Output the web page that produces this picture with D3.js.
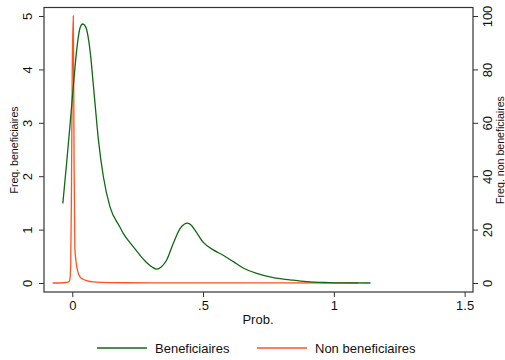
<!DOCTYPE html>
<head>
    <meta charset="utf-8">
    <title>Density</title>
    <script src="https://d3js.org/d3.v7.min.js"></script>
    <style>
        body { margin: 0; background: #fff; }
        svg { display: block; font-family: "Liberation Sans", Arial, sans-serif; }
    </style>
</head>
<body>
    <div id="svg-container"></div>
    <script>
        // kernel density, beneficiaires (left axis)
        const benefX = [-0.036, -0.022, -0.009, 0.004, 0.019, 0.030, 0.040, 0.051, 0.061, 0.071, 0.080, 0.090,
            0.100, 0.119, 0.144, 0.182, 0.195, 0.233, 0.259, 0.285, 0.305, 0.323, 0.340, 0.361, 0.386, 0.412,
            0.428, 0.440, 0.455, 0.469, 0.501, 0.539, 0.577, 0.616, 0.654, 0.705, 0.769, 0.832, 0.896, 0.98, 1.06, 1.14];
        const benefY = [1.49, 2.22, 2.93, 3.68, 4.45, 4.78, 4.85, 4.80, 4.60, 4.22, 3.74, 3.20,
            2.68, 1.99, 1.43, 1.05, 0.93, 0.68, 0.52, 0.38, 0.30, 0.26, 0.30, 0.43, 0.74, 1.02,
            1.10, 1.12, 1.08, 0.99, 0.76, 0.62, 0.52, 0.40, 0.28, 0.18, 0.10, 0.06, 0.025, 0.008, 0.002, 0];

        // kernel density, non beneficiaires (right axis)
        const nonX = [-0.075, -0.03, -0.015, -0.010, -0.006, -0.003, 0.000, 0.004, 0.007, 0.010, 0.014, 0.017,
            0.022, 0.029, 0.040, 0.055, 0.080, 0.144, 0.30, 0.50, 0.80, 1.093];
        const nonY = [0, 0.1, 0.3, 0.9, 6, 35, 80, 100, 45, 13, 8.5, 6.2,
            4.0, 2.4, 1.5, 0.9, 0.4, 0.15, 0.06, 0.03, 0.01, 0];

        const xTicks = [0, 0.5, 1, 1.5];
        const xTickLabels = ["0", ".5", "1", "1.5"];
        const yLeftTicks = [0, 1, 2, 3, 4, 5];
        const yRightTicks = [0, 20, 40, 60, 80, 100];

        const seriesNames = ["Beneficiaires", "Non beneficiaires"];
        const seriesColors = ["#0f6a12", "#ff5220"];

        const W = 505, H = 360;
        const plot = { left: 44, right: 473, top: 7.5, bottom: 292 };

        const x = d3.scaleLinear().domain([-0.108, 1.532]).range([plot.left, plot.right]);
        const yL = d3.scaleLinear().domain([0, 5]).range([283, 16]);
        const yR = d3.scaleLinear().domain([0, 100]).range([283, 16]);

        const svg = d3.select("#svg-container").append("svg")
            .attr("width", W).attr("height", H);

        const line = (xs, ys, y) => d3.line()
            .x((d, i) => x(xs[i]))
            .y((d, i) => y(ys[i]))
            .curve(d3.curveMonotoneX)(xs);

        svg.append("path")
            .attr("d", line(nonX, nonY, yR))
            .attr("fill", "none").attr("stroke", seriesColors[1]).attr("stroke-width", 1.3);

        svg.append("path")
            .attr("d", line(benefX, benefY, yL))
            .attr("fill", "none").attr("stroke", seriesColors[0]).attr("stroke-width", 1.3);

        // frame
        svg.append("rect")
            .attr("x", plot.left).attr("y", plot.top)
            .attr("width", plot.right - plot.left).attr("height", plot.bottom - plot.top)
            .attr("fill", "none").attr("stroke", "#333").attr("stroke-width", 1.2);

        // axes
        const xAxis = d3.axisBottom(x).tickValues(xTicks).tickSize(5).tickPadding(4)
            .tickFormat((d, i) => xTickLabels[i]);
        const gx = svg.append("g").attr("transform", `translate(0,${plot.bottom})`).call(xAxis);
        gx.select(".domain").remove();
        gx.selectAll("text").attr("font-size", 13).attr("fill", "#111").attr("font-family", null);
        gx.selectAll("line").attr("stroke", "#333");

        const yAxisL = d3.axisLeft(yL).tickValues(yLeftTicks).tickSize(5).tickFormat(d3.format("d"));
        const gl = svg.append("g").attr("transform", `translate(${plot.left},0)`).call(yAxisL);
        gl.select(".domain").remove();
        gl.selectAll("line").attr("stroke", "#333");
        gl.selectAll("text")
            .attr("font-size", 13).attr("fill", "#111").attr("font-family", null)
            .attr("text-anchor", "middle").attr("x", null).attr("dy", null)
            .attr("transform", "translate(-12,0) rotate(-90)");

        const yAxisR = d3.axisRight(yR).tickValues(yRightTicks).tickSize(5).tickFormat(d3.format("d"));
        const gr = svg.append("g").attr("transform", `translate(${plot.right},0)`).call(yAxisR);
        gr.select(".domain").remove();
        gr.selectAll("line").attr("stroke", "#333");
        gr.selectAll("text")
            .attr("font-size", 13).attr("fill", "#111").attr("font-family", null)
            .attr("text-anchor", "middle").attr("x", null).attr("dy", null)
            .attr("transform", "translate(19,0) rotate(-90)");

        // titles
        svg.append("text").attr("x", 258).attr("y", 324)
            .attr("text-anchor", "middle").attr("font-size", 13).attr("fill", "#111").text("Prob.");
        svg.append("text").attr("transform", "translate(18,150) rotate(-90)")
            .attr("text-anchor", "middle").attr("font-size", 10.6).attr("fill", "#111").text("Freq. beneficiaires");
        svg.append("text").attr("transform", "translate(504,150) rotate(-90)")
            .attr("text-anchor", "middle").attr("font-size", 10.6).attr("fill", "#111").text("Freq. non beneficiaires");

        // legend
        const legX = [97, 257];
        const leg = svg.append("g").selectAll("g").data(seriesNames).join("g")
            .attr("transform", (d, i) => `translate(${legX[i]},348)`);
        leg.append("line").attr("x1", 0).attr("x2", 50)
            .attr("stroke", (d, i) => seriesColors[i]).attr("stroke-width", 1.3);
        leg.append("text").attr("x", 58).attr("y", 4.5)
            .attr("font-size", 13).attr("fill", "#111").text(d => d);
    </script>
</body>
</html>
